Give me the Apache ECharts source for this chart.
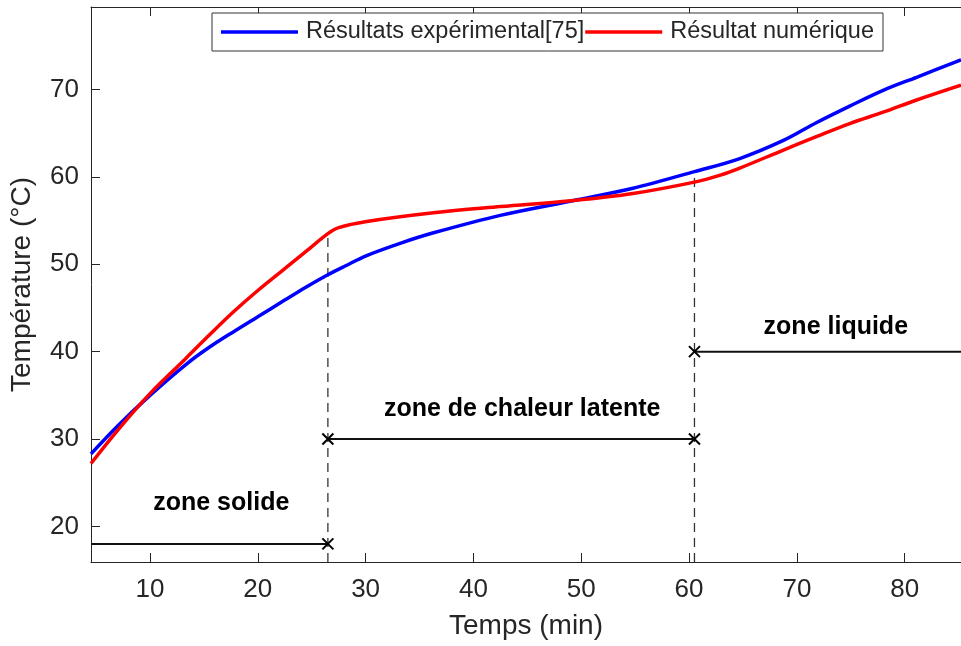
<!DOCTYPE html>
<html>
<head>
<meta charset="utf-8">
<script src="https://cdn.jsdelivr.net/npm/echarts@6/dist/echarts.min.js"></script>
<style>
html,body{margin:0;padding:0;background:#fff;}
#chart{width:961px;height:646px;}
</style>
</head>
<body>
<div id="chart"></div>
<script>
// ---- data ----
const seriesNames = ['Résultats expérimental[75]', 'Résultat numérique'];
const expX = [4.53, 7, 10, 13.3, 15.5, 17.9, 20, 22.5, 24.5, 26.5, 28.1, 30.1, 33.2, 36.3, 42.5, 49.3, 54.8, 60.5, 64.7, 68.8, 71.8, 74.9, 78.0, 81.1, 85.22];
const expY = [28.3, 31.5, 35.0, 38.5, 40.5, 42.4, 44.0, 45.9, 47.4, 48.8, 49.8, 51.0, 52.4, 53.6, 55.6, 57.3, 58.7, 60.6, 62.1, 64.2, 66.2, 68.1, 69.9, 71.4, 73.4];
const numX = [4.53, 7, 10, 13.3, 15.5, 17.6, 20, 22.5, 24.5, 26.5, 27.5, 30.1, 36.3, 42.5, 49.3, 54.8, 60.5, 62.9, 64.7, 68.8, 71.8, 74.9, 78.0, 81.1, 85.22];
const numY = [27.2, 31.0, 35.2, 39.2, 41.9, 44.4, 47.0, 49.5, 51.5, 53.5, 54.2, 54.9, 55.9, 56.6, 57.3, 58.1, 59.4, 60.2, 61.0, 63.1, 64.6, 66.1, 67.4, 68.8, 70.5];

const xTicks = [10, 20, 30, 40, 50, 60, 70, 80];
const yTicks = [20, 30, 40, 50, 60, 70];
const xRange = [4.53, 85.22];
const yRange = [15.93, 79.44];

// zone boundaries (min), top of dashed lines, arrow levels
const zoneBounds = [26.5, 60.5];
const dashTops = [53.5, 60.6];
const arrowLevels = [18, 30, 40];

const annoText = ['zone solide', 'zone de chaleur latente', 'zone liquide'];
const annoX = [16.61, 44.52, 73.61];
const annoY = [22.71, 33.42, 42.83];

// ---- build ----
const zip = (a, b) => a.map((v, i) => [v, b[i]]);
const textColor = '#262626';
const FONT = 'Liberation Sans, Arial, sans-serif';

const arrowSegments = [
  [[xRange[0], arrowLevels[0]], [zoneBounds[0], arrowLevels[0]]],
  [[zoneBounds[0], arrowLevels[1]], [zoneBounds[1], arrowLevels[1]]],
  [[zoneBounds[1], arrowLevels[2]], [xRange[1], arrowLevels[2]]]
];
const crossPts = [
  [zoneBounds[0], arrowLevels[0]],
  [zoneBounds[0], arrowLevels[1]],
  [zoneBounds[1], arrowLevels[1]],
  [zoneBounds[1], arrowLevels[2]]
];

const series = [];
zoneBounds.forEach((b, i) => {
  series.push({
    type: 'line', silent: true, symbol: 'none', z: 1,
    data: [[b, yRange[0]], [b, dashTops[i]]],
    lineStyle: { color: '#333', width: 1.3, type: [9, 6] }
  });
});
arrowSegments.forEach(seg => {
  series.push({
    type: 'line', silent: true, symbol: 'none', z: 2,
    data: seg,
    lineStyle: { color: '#111', width: 2 }
  });
});
series.push({
  type: 'scatter', silent: true, z: 3,
  symbol: 'path://M0,0L10,10M10,0L0,10',
  symbolSize: 11,
  data: crossPts,
  itemStyle: { color: 'transparent', borderColor: '#000', borderWidth: 2, opacity: 1 }
});
series.push({
  type: 'scatter', silent: true, z: 4,
  symbolSize: 0,
  data: annoX.map((x, i) => [x, annoY[i], annoText[i]]),
  itemStyle: { color: '#000', opacity: 1 },
  label: {
    show: true, position: 'inside',
    formatter: p => p.value[2],
    color: '#000', fontSize: 25, fontWeight: 'bold',
    fontFamily: FONT, opacity: 1
  }
});
series.push({
  name: seriesNames[0], type: 'line', symbol: 'none', z: 5,
  smooth: 0.35,
  data: zip(expX, expY),
  lineStyle: { color: '#0000ff', width: 3.5 },
  itemStyle: { color: '#0000ff' }
});
series.push({
  name: seriesNames[1], type: 'line', symbol: 'none', z: 6,
  smooth: 0.35,
  data: zip(numX, numY),
  lineStyle: { color: '#ff0000', width: 3.5 },
  itemStyle: { color: '#ff0000' }
});

const axisCommon = {
  axisLine: { show: true, onZero: false, lineStyle: { color: textColor, width: 1 } },
  splitLine: { show: false }
};

const option = {
  animation: false,
  backgroundColor: '#fff',
  textStyle: { fontFamily: FONT },
  grid: { left: 91, right: 0, top: 7, bottom: 84, containLabel: false, outerBoundsMode: 'none' },
  legend: {
    data: seriesNames,
    icon: 'rect',
    left: 212, top: 13,
    padding: [7, 9, 7, 9],
    itemWidth: 77, itemHeight: 3.5, itemGap: 1,
    borderColor: '#333', borderWidth: 1,
    backgroundColor: '#fff',
    textStyle: { fontSize: 23.5, color: textColor, fontFamily: FONT, padding: [0, 0, 0, 3] }
  },
  xAxis: [
    Object.assign({
      type: 'value', min: xRange[0], max: xRange[1], position: 'bottom',
      name: 'Temps (min)', nameLocation: 'middle', nameGap: 50,
      nameTextStyle: { fontSize: 28, color: textColor, fontFamily: FONT },
      axisTick: { show: true, inside: true, length: 9, customValues: xTicks, lineStyle: { color: textColor } },
      axisLabel: { show: true, customValues: xTicks, margin: 15, fontSize: 26, color: textColor, fontFamily: FONT }
    }, axisCommon),
    Object.assign({
      type: 'value', min: xRange[0], max: xRange[1], position: 'top',
      axisTick: { show: true, inside: true, length: 9, customValues: xTicks, lineStyle: { color: textColor } },
      axisLabel: { show: false }
    }, axisCommon)
  ],
  yAxis: Object.assign({
    type: 'value', min: yRange[0], max: yRange[1],
    name: 'Température (°C)', nameLocation: 'middle', nameGap: 55,
    nameTextStyle: { fontSize: 28, color: textColor, fontFamily: FONT },
    axisTick: { show: true, inside: true, length: 9, customValues: yTicks, lineStyle: { color: textColor } },
    axisLabel: { show: true, customValues: yTicks, margin: 12, fontSize: 26, color: textColor, fontFamily: FONT }
  }, axisCommon),
  series: series
};

const chart = echarts.init(document.getElementById('chart'), null, { renderer: 'canvas' });
chart.setOption(option);
</script>
</body>
</html>
